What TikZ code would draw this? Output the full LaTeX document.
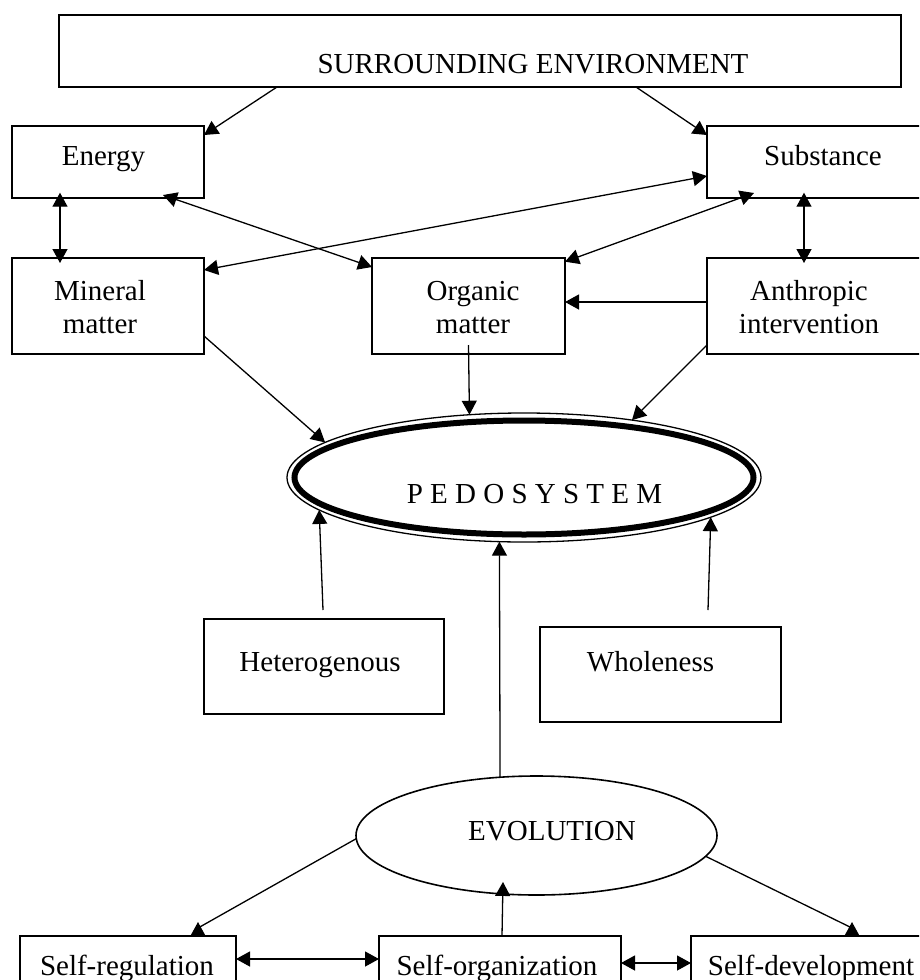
\documentclass[tikz,border=0pt]{standalone}
\usepackage{fontspec}
\setmainfont{Liberation Serif}
\usetikzlibrary{arrows.meta,shapes.geometric,calc}
\begin{document}
\begin{tikzpicture}[x=1pt,y=1pt,
  box/.style={draw, line width=1.6pt, rectangle, inner sep=0pt, outer sep=0pt},
  oval/.style={draw, ellipse, inner sep=0pt, outer sep=0pt},
  lbl/.style={anchor=base, inner sep=0pt, font=\fontsize{29}{33}\selectfont},
  conn/.style={line width=1.3pt, -{Triangle[length=14pt,width=15pt]}},
  dconn/.style={line width=1.3pt, {Triangle[length=14pt,width=15pt]}-{Triangle[length=14pt,width=15pt]}},
  over/.style={shorten >=-5pt, shorten <=-5pt}
]
\path[use as bounding box, clip] (0,0) rectangle (919,-980);
\fill[white] (0,0) rectangle (919,-980);

% boxes
\node[box, minimum width=842pt, minimum height=72pt] (surr) at (480,-51) {};
\node[box, minimum width=192pt, minimum height=72pt] (energy) at (108,-161.7) {};
\node[box, minimum width=223pt, minimum height=72pt] (substance) at (818.5,-161.7) {};
\node[box, minimum width=192pt, minimum height=96pt] (mineral) at (108,-306) {};
\node[box, minimum width=193pt, minimum height=96pt] (organic) at (468.5,-306) {};
\node[box, minimum width=223pt, minimum height=96pt] (anthro) at (818.5,-306) {};
\node[box, minimum width=240pt, minimum height=95pt] (hetero) at (324,-666.5) {};
\node[box, minimum width=241pt, minimum height=95pt] (whole) at (660.5,-674.5) {};
\node[box, minimum width=216pt, minimum height=64pt] (sreg) at (128,-968) {};
\node[box, minimum width=242pt, minimum height=64pt] (sorg) at (500,-968) {};
\node[box, minimum width=239pt, minimum height=64pt] (sdev) at (810.5,-968) {};

% ellipses
\node[oval, line width=1.3pt, minimum width=474pt, minimum height=129pt] (ped) at (524,-477.5) {};
\draw[line width=6pt] (ped.center) ellipse [x radius=229.5, y radius=57];
\node[oval, line width=1.6pt, minimum width=361pt, minimum height=119pt] (evol) at (536.5,-835.5) {};

% labels
\node[lbl] (tsurr) at (533,-73.5) {SURROUNDING ENVIRONMENT};
\node[lbl] (tenergy) at (103.5,-165) {Energy};
\node[lbl] (tsubst) at (823,-165.7) {Substance};
\node[lbl] (tmin1) at (100,-300) {Mineral};
\node[lbl] (tmin2) at (100,-333) {matter};
\node[lbl] (torg1) at (473,-300) {Organic};
\node[lbl] (torg2) at (473,-333) {matter};
\node[lbl] (tant1) at (809,-300) {Anthropic};
\node[lbl] (tant2) at (809,-333) {intervention};
\node[lbl] (tped) at (534.5,-503) {P E D O S Y S T E M};
\node[lbl] (thet) at (320,-671.7) {Heterogenous};
\node[lbl] (twho) at (650.5,-671.7) {Wholeness};
\node[lbl] (tevo) at (552,-840.7) {EVOLUTION};
\node[lbl] (tsreg) at (127,-975) {Self-regulation};
\node[lbl] (tsorg) at (497,-975) {Self-organization};
\node[lbl] (tsdev) at (811,-975) {Self-development};

% connectors
\draw[conn] ($(surr.south west)+(218,0)$) -- ($(energy.north east)+(0,-9.3)$);
\draw[conn] ($(surr.south west)+(577,0)$) -- ($(substance.north west)+(0,-9.3)$);
\draw[dconn, over] ($(energy.south west)+(48,0)$) -- ($(mineral.north west)+(48,0)$);
\draw[dconn] ($(energy.south west)+(151,2.7)$) -- ($(organic.north west)+(0,-9)$);
\draw[dconn] ($(mineral.north east)+(0,-12)$) -- ($(substance.north west)+(0,-50.3)$);
\draw[dconn] ($(organic.north east)+(0,-3.7)$) -- ($(substance.south west)+(47,4.7)$);
\draw[dconn, over] ($(substance.south west)+(97,0)$) -- ($(anthro.north west)+(97,0)$);
\draw[conn] ($(anthro.north west)+(0,-44)$) -- ($(organic.north east)+(0,-44)$);
\draw[conn] ($(mineral.north east)+(0,-78)$) -- (ped.170.3);
\draw[conn] ($(organic.south)+(0,9)$) -- (ped.131.5);
\draw[conn] ($(anthro.south west)+(0,9)$) -- (ped.28.8);
\coordinate (hetstart) at ($(hetero.north)+(-1,9)$);
\draw[conn] (hetstart) -- (ped.189.7);
\draw[conn] (evol.122.1) -- (ped.249.5);
\coordinate (whostart) at ($(whole.north)+(47.5,17)$);
\draw[conn] (whostart) -- (ped.348);
% evolution to self-regulation / self-development (heads drawn upright on the box tops)
\coordinate (sregin) at ($(sreg.north west)+(178,0)$);
\coordinate (sdevin) at ($(sdev.north west)+(161,0)$);
\draw[line width=1.3pt] (evol.181.7) -- ($(sregin)+(0,8)$);
\draw[conn] (sregin) -- ++(0,14);
\draw[line width=1.3pt] (evol.353.1) -- ($(sdevin)+(0,8)$);
\draw[conn] (sdevin) -- ++(0,14);
\draw[conn, shorten >=-12pt] ($(sorg.north west)+(123,0)$) -- (evol.240.2);
\draw[dconn] ($(sreg.north east)+(0,-23)$) -- ($(sorg.north west)+(0,-23)$);
\draw[dconn] ($(sorg.north east)+(0,-27)$) -- ($(sdev.north west)+(0,-27)$);
\end{tikzpicture}
\end{document}
